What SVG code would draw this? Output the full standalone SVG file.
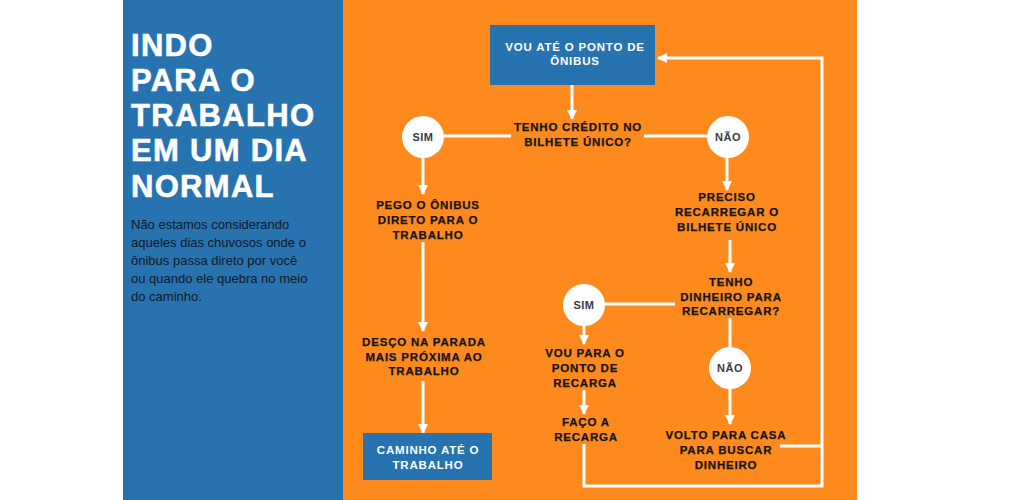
<svg xmlns="http://www.w3.org/2000/svg" width="1024" height="500" viewBox="0 0 1024 500">
<defs>
<style>
.ln{stroke:#fff;stroke-width:3;fill:none}
.fl{font-family:"Liberation Sans",Arial,sans-serif;font-weight:bold;font-size:11.5px;letter-spacing:0.8px;fill:#141414;stroke:#141414;stroke-width:0.25;text-anchor:middle}
.bx{font-family:"Liberation Sans",Arial,sans-serif;font-weight:bold;font-size:11.5px;letter-spacing:0.8px;fill:#fff;text-anchor:middle}
.ct{font-family:"Liberation Sans",Arial,sans-serif;font-weight:bold;font-size:11px;letter-spacing:0.5px;fill:#3a3a48;text-anchor:middle}
.title{font-family:"Liberation Sans",Arial,sans-serif;font-weight:bold;font-size:31px;letter-spacing:1.3px;fill:#fff;stroke:#fff;stroke-width:0.6}
.body{font-family:"Liberation Sans",Arial,sans-serif;font-size:13px;fill:#111827}
</style>
<marker id="ah" viewBox="0 0 10 10" refX="9" refY="5" markerWidth="10" markerHeight="10" markerUnits="userSpaceOnUse" orient="auto">
<path d="M0,0 L10,5 L0,10 z" fill="#fff"/>
</marker>
</defs>
<rect width="1024" height="500" fill="#fff"/>
<rect x="123" y="0" width="220" height="500" fill="#2773b0"/>
<rect x="343" y="0" width="514" height="500" fill="#fe8a1d"/>
<g id="title">
<text class="title" x="131" y="56">INDO</text>
<text class="title" x="131" y="91">PARA O</text>
<text class="title" x="131" y="126">TRABALHO</text>
<text class="title" x="131" y="161">EM UM DIA</text>
<text class="title" x="131" y="197">NORMAL</text>
</g>
<g id="desc">
<text class="body" x="131" y="229">Não estamos considerando</text>
<text class="body" x="131" y="247">aqueles dias chuvosos onde o</text>
<text class="body" x="131" y="265">ônibus passa direto por você</text>
<text class="body" x="131" y="283">ou quando ele quebra no meio</text>
<text class="body" x="131" y="301">do caminho.</text>
</g>
<g id="connectors">
<line class="ln" x1="572" y1="85" x2="572" y2="119" marker-end="url(#ah)"/>
<line class="ln" x1="444" y1="136" x2="511" y2="136"/>
<line class="ln" x1="644" y1="136" x2="707" y2="136"/>
<line class="ln" x1="423" y1="158" x2="423" y2="194" marker-end="url(#ah)"/>
<line class="ln" x1="423" y1="242" x2="423" y2="331" marker-end="url(#ah)"/>
<line class="ln" x1="423" y1="381" x2="423" y2="433" marker-end="url(#ah)"/>
<line class="ln" x1="727" y1="158" x2="727" y2="190" marker-end="url(#ah)"/>
<line class="ln" x1="730" y1="240" x2="730" y2="272" marker-end="url(#ah)"/>
<line class="ln" x1="605" y1="304" x2="675" y2="304"/>
<line class="ln" x1="584" y1="326" x2="584" y2="344" marker-end="url(#ah)"/>
<line class="ln" x1="584" y1="390" x2="584" y2="414" marker-end="url(#ah)"/>
<line class="ln" x1="730" y1="318" x2="730" y2="348"/>
<line class="ln" x1="730" y1="389" x2="730" y2="424" marker-end="url(#ah)"/>
<polyline class="ln" points="584,444 584,486 822,486 822,58 658,58" marker-end="url(#ah)"/>
<line class="ln" x1="780" y1="446" x2="822" y2="446"/>
</g>
<g id="n-ponto">
<rect x="490" y="25" width="165" height="60" fill="#2773b0"/>
<text class="bx" x="575" y="51">VOU ATÉ O PONTO DE</text>
<text class="bx" x="575" y="65">ÔNIBUS</text>
</g>
<g id="n-credito">
<text class="fl" x="578" y="131">TENHO CRÉDITO NO</text>
<text class="fl" x="578" y="146">BILHETE ÚNICO?</text>
</g>
<g id="n-sim1">
<circle cx="423" cy="137" r="21" fill="#fff"/>
<text class="ct" x="423" y="141">SIM</text>
</g>
<g id="n-nao1">
<circle cx="728" cy="137" r="21" fill="#fff"/>
<text class="ct" x="728" y="141">NÃO</text>
</g>
<g id="n-pego">
<text class="fl" x="428" y="209">PEGO O ÔNIBUS</text>
<text class="fl" x="428" y="224">DIRETO PARA O</text>
<text class="fl" x="428" y="239">TRABALHO</text>
</g>
<g id="n-desco">
<text class="fl" x="424" y="346">DESÇO NA PARADA</text>
<text class="fl" x="424" y="361">MAIS PRÓXIMA AO</text>
<text class="fl" x="424" y="375">TRABALHO</text>
</g>
<g id="n-caminho">
<rect x="363" y="433" width="129" height="47" fill="#2773b0"/>
<text class="bx" x="428" y="454">CAMINHO ATÉ O</text>
<text class="bx" x="428" y="469">TRABALHO</text>
</g>
<g id="n-preciso">
<text class="fl" x="727" y="201">PRECISO</text>
<text class="fl" x="727" y="216">RECARREGAR O</text>
<text class="fl" x="727" y="231">BILHETE ÚNICO</text>
</g>
<g id="n-dinheiro">
<text class="fl" x="731" y="286">TENHO</text>
<text class="fl" x="731" y="301">DINHEIRO PARA</text>
<text class="fl" x="731" y="315">RECARREGAR?</text>
</g>
<g id="n-sim2">
<circle cx="584" cy="305" r="21" fill="#fff"/>
<text class="ct" x="584" y="309">SIM</text>
</g>
<g id="n-nao2">
<circle cx="730" cy="368" r="21" fill="#fff"/>
<text class="ct" x="730" y="372">NÃO</text>
</g>
<g id="n-vou">
<text class="fl" x="585" y="357">VOU PARA O</text>
<text class="fl" x="585" y="372">PONTO DE</text>
<text class="fl" x="585" y="387">RECARGA</text>
</g>
<g id="n-faco">
<text class="fl" x="586" y="426">FAÇO A</text>
<text class="fl" x="586" y="441">RECARGA</text>
</g>
<g id="n-volto">
<text class="fl" x="726" y="439">VOLTO PARA CASA</text>
<text class="fl" x="726" y="454">PARA BUSCAR</text>
<text class="fl" x="726" y="469">DINHEIRO</text>
</g>
</svg>
